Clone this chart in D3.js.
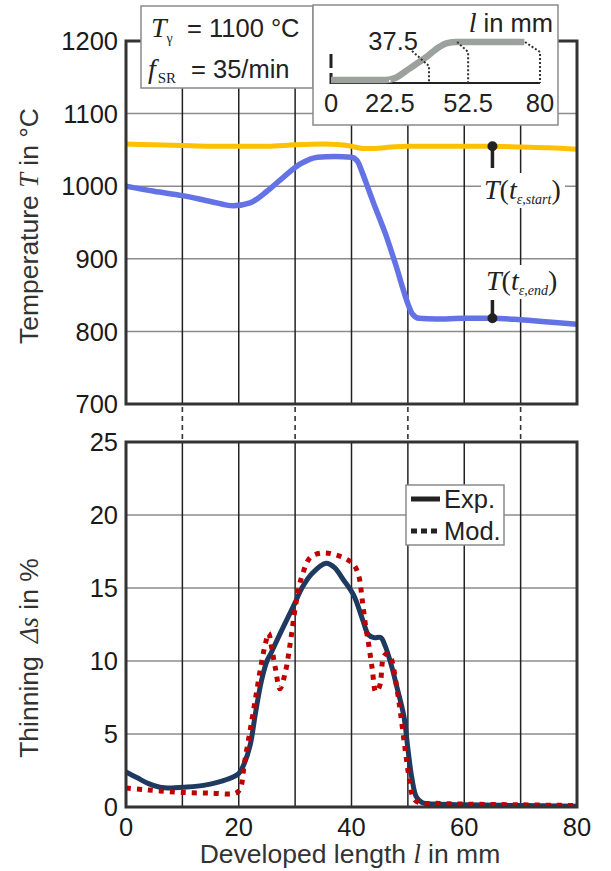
<!DOCTYPE html>
<html><head><meta charset="utf-8">
<script src="https://cdn.jsdelivr.net/npm/d3@7"></script>
<style>body{margin:0;background:#fff}svg{display:block}</style>
</head><body><svg id="c" width="611" height="871"></svg>
<script>
// ---------- data ----------
const lenBlue = [0,5,10,15,19,22,25,28,31,34,37,40,41,42,43,44,45,46,47,48,49,50,50.8,52,55,60,65,70,75,80];
const tempBlue = [1000,993,987,979,973,977,993,1013,1031,1040,1041,1040,1035,1017,996,975,955,935,912,888,862,838,824,818,817,818,818,816,813,810];
const lenOrange = [0,5,10,15,20,25,30,35,38,40,42,44,47,50,55,60,65,70,75,80];
const tempOrange = [1058,1057,1056,1055,1055,1055,1057,1058,1057,1055,1052,1052,1054,1055,1055,1055,1055,1054,1053,1051];
const lenExp = [0,2,4,6,8,10,14,18,20,21,22,23,24,25,25.8,27,28,30,31.2,33,35.5,37,38.5,40.4,42,43,44,45.2,46,47,48,49.3,50,50.7,51.5,52.5,55,60,70,80];
const thinExp = [2.4,2.0,1.6,1.35,1.3,1.35,1.5,1.9,2.3,3.0,4.2,6.5,8.6,10.0,10.6,11.6,12.4,14.0,15.0,16.0,16.7,16.4,15.6,14.5,12.8,11.8,11.6,11.6,11.0,9.8,8.3,6.2,4.0,2.0,0.7,0.3,0.2,0.15,0.1,0.05];
const lenMod = [0,3,6,10,15,19.5,20.3,21,22,23,24,24.8,25.3,25.8,26.5,27.3,28.3,29.2,30,30.6,31.2,32.7,34.8,36.9,39,40.4,41.3,41.9,42.5,43.1,43.7,44.3,45,45.7,46.3,46.9,48.1,48.7,49.5,50.3,51,52,55,60,70,80];
const thinMod = [1.3,1.2,1.1,1.0,0.95,0.95,1.3,3.0,5.2,7.5,9.8,11.3,11.9,11.0,9.5,8.1,9.3,11.4,13.6,14.9,15.8,17.1,17.4,17.3,17.0,16.6,15.8,14.2,12.4,11.0,9.4,7.9,8.3,10.3,10.5,10.3,8.0,6.4,4.0,1.8,0.6,0.3,0.25,0.2,0.15,0.1];
const xTicks = [0,20,40,60,80];
const xGrid = [10,20,30,40,50,60,70];
const tTicks = [700,800,900,1000,1100,1200];
const tGrid = [800,900,1000,1100];
const sTicks = [0,5,10,15,20,25];
const sGrid = [5,10,15,20];
const connectorL = [10,30,50,70];
const markerL = 65;
const markerStart = 1055, markerEnd = 818;
const insetTicks = [0,22.5,52.5,80];
const insetMarks = [37.5,52.5,80];
const profL = [0,21,24.5,30,36,41,44.5,48,74];
const profH = [0,0,0.05,0.3,0.58,0.85,0.97,1,1];
const legendItems = [{name:"Exp.", key:"exp"},{name:"Mod.", key:"mod"}];

// ---------- setup ----------
const SANS = "'Liberation Sans', Arial, sans-serif";
const SERIF = "'Liberation Serif', 'Times New Roman', serif";
const svg = d3.select("#c");
const X0 = 126, X1 = 577;
const x = d3.scaleLinear([0,80],[X0,X1]);
const yT = d3.scaleLinear([700,1200],[404,41]);
const yS = d3.scaleLinear([0,25],[807,442]);

const cBlue = "#6373e6", cOrange = "#ffc000", cExp = "#1f3a60", cMod = "#c00000";
const gridDark = "#222", gridLight = "#8c8c8c", frameC = "#333";

function panel(y, grid, ticks, fmt){
  const g = svg.append("g");
  g.selectAll("line.h").data(grid).join("line")
    .attr("x1",X0).attr("x2",X1).attr("y1",d=>y(d)).attr("y2",d=>y(d))
    .attr("stroke",gridLight).attr("stroke-width",1.5);
  g.selectAll("line.v").data(xGrid).join("line")
    .attr("x1",d=>x(d)).attr("x2",d=>x(d)).attr("y1",y.range()[0]).attr("y2",y.range()[1])
    .attr("stroke",gridDark).attr("stroke-width",1.5);
  g.selectAll("text.yt").data(ticks).join("text")
    .attr("x",118).attr("y",d=>y(d)).attr("dy","0.36em")
    .attr("text-anchor","end").attr("font-family",SANS).attr("font-size",25.5).attr("fill","#1a1a1a")
    .text(fmt);
  return g;
}
panel(yT, tGrid, tTicks, d=>d);
panel(yS, sGrid, sTicks, d=>d);

// connectors
svg.selectAll("line.conn").data(connectorL).join("line")
  .attr("x1",d=>x(d)).attr("x2",d=>x(d)).attr("y1",407).attr("y2",441)
  .attr("stroke","#333").attr("stroke-width",1.6).attr("stroke-dasharray","5,4");

// clip
svg.append("clipPath").attr("id","clipT").append("rect").attr("x",X0).attr("y",41).attr("width",X1-X0).attr("height",363);
svg.append("clipPath").attr("id","clipS").append("rect").attr("x",X0).attr("y",442).attr("width",X1-X0).attr("height",365);

// top curves
const lineT = d3.line().x(d=>x(d[0])).y(d=>yT(d[1])).curve(d3.curveMonotoneX);
svg.append("path").attr("clip-path","url(#clipT)")
  .attr("d", lineT(d3.zip(lenOrange,tempOrange))).attr("fill","none")
  .attr("stroke",cOrange).attr("stroke-width",5);
svg.append("path").attr("clip-path","url(#clipT)")
  .attr("d", lineT(d3.zip(lenBlue,tempBlue))).attr("fill","none")
  .attr("stroke",cBlue).attr("stroke-width",5.5);

// bottom curves
const lineS = d3.line().x(d=>x(d[0])).y(d=>yS(d[1])).curve(d3.curveCatmullRom.alpha(0.5));
svg.append("path").attr("clip-path","url(#clipS)")
  .attr("d", lineS(d3.zip(lenExp,thinExp))).attr("fill","none")
  .attr("stroke",cExp).attr("stroke-width",5).attr("stroke-linejoin","round");
svg.append("path").attr("clip-path","url(#clipS)")
  .attr("d", lineS(d3.zip(lenMod,thinMod))).attr("fill","none")
  .attr("stroke",cMod).attr("stroke-width",5).attr("stroke-dasharray","5,6");

// frames
[[41,404],[442,807]].forEach(([a,b])=>{
  svg.append("rect").attr("x",X0).attr("y",a).attr("width",X1-X0).attr("height",b-a)
    .attr("fill","none").attr("stroke",frameC).attr("stroke-width",3);
});

// x tick labels
svg.selectAll("text.xt").data(xTicks).join("text")
  .attr("x",d=>x(d)).attr("y",836).attr("text-anchor","middle")
  .attr("font-family",SANS).attr("font-size",25.5).attr("fill","#1a1a1a").text(d=>d);

// axis titles
const xt = svg.append("text").attr("x",350).attr("y",863).attr("text-anchor","middle")
  .attr("font-family",SANS).attr("font-size",26.5).attr("fill","#333");
xt.append("tspan").text("Developed length ");
xt.append("tspan").attr("font-family",SERIF).attr("font-style","italic").text("l");
xt.append("tspan").text(" in mm");

const yt1 = svg.append("text").attr("transform","translate(38,226) rotate(-90)").attr("text-anchor","middle")
  .attr("font-family",SANS).attr("font-size",26.5).attr("fill","#333");
yt1.append("tspan").text("Temperature ");
yt1.append("tspan").attr("font-family",SERIF).attr("font-style","italic").text("T");
yt1.append("tspan").text(" in °C");

const yt2 = svg.append("text").attr("transform","translate(38,658) rotate(-90)").attr("text-anchor","middle")
  .attr("font-family",SANS).attr("font-size",26.5).attr("fill","#333");
yt2.append("tspan").text("Thinning\u2002");
yt2.append("tspan").attr("font-family",SERIF).attr("font-style","italic").text("Δs");
yt2.append("tspan").text(" in %");

// markers
const mx = x(markerL);
svg.append("line").attr("x1",mx).attr("x2",mx).attr("y1",yT(markerStart)).attr("y2",168)
  .attr("stroke","#222").attr("stroke-width",3.5);
svg.append("circle").attr("cx",mx).attr("cy",yT(markerStart)).attr("r",5).attr("fill","#222");
svg.append("line").attr("x1",mx).attr("x2",mx).attr("y1",300).attr("y2",yT(markerEnd))
  .attr("stroke","#222").attr("stroke-width",3.5);
svg.append("circle").attr("cx",mx).attr("cy",yT(markerEnd)).attr("r",5).attr("fill","#222");

function tLabel(x0, yb, sub, rect){
  svg.append("rect").attr("x",rect[0]).attr("y",rect[1]).attr("width",rect[2]).attr("height",rect[3]).attr("fill","#fff");
  const t = svg.append("text").attr("x",x0).attr("y",yb).attr("font-family",SERIF).attr("font-size",28).attr("fill","#222");
  t.append("tspan").attr("font-style","italic").text("T");
  t.append("tspan").text("(");
  t.append("tspan").attr("font-style","italic").text("t");
  t.append("tspan").attr("font-style","italic").attr("font-size",14).attr("dy",5).text(sub);
  t.append("tspan").attr("dy",-5).text(")");
}
tLabel(484, 199, "ε,start", [481,173,84,35]);
tLabel(486, 290, "ε,end", [483,265,79,34]);

// inset left
svg.append("rect").attr("x",141).attr("y",6).attr("width",172).attr("height",82)
  .attr("fill","#fff").attr("stroke","#8a8a8a").attr("stroke-width",1.5);
const l1 = svg.append("text").attr("x",151).attr("y",37).attr("font-size",25).attr("fill","#222");
l1.append("tspan").attr("font-family",SERIF).attr("font-style","italic").attr("font-size",28).text("T");
l1.append("tspan").attr("font-family",SERIF).attr("font-size",14).attr("dy",6).text("γ");
svg.append("text").attr("x",187).attr("y",37).attr("font-family",SANS).attr("font-size",25.5).attr("fill","#222").text("= 1100 °C");
const l2 = svg.append("text").attr("x",148).attr("y",78).attr("fill","#222");
l2.append("tspan").attr("font-family",SERIF).attr("font-style","italic").attr("font-size",28).text("f");
l2.append("tspan").attr("font-family",SERIF).attr("font-size",15).attr("dy",5).attr("dx",2).text("SR");
svg.append("text").attr("x",191).attr("y",78).attr("font-family",SANS).attr("font-size",25.5).attr("fill","#222").text("= 35/min");

// inset right
svg.append("rect").attr("x",313).attr("y",5).attr("width",245).attr("height",120)
  .attr("fill","#fff").attr("stroke","#8a8a8a").attr("stroke-width",1.5);
const xi = d3.scaleLinear([0,80],[331,540]);
const yi = d3.scaleLinear([0,1],[80,42]);
svg.append("line").attr("x1",xi(0)).attr("x2",xi(80)).attr("y1",83).attr("y2",83).attr("stroke","#222").attr("stroke-width",2);
svg.append("line").attr("x1",xi(0)).attr("x2",xi(0)).attr("y1",54).attr("y2",84).attr("stroke","#222").attr("stroke-width",3).attr("stroke-dasharray","14,5");
svg.append("path").attr("d", d3.line().x(d=>xi(d[0])).y(d=>yi(d[1])).curve(d3.curveMonotoneX)(d3.zip(profL,profH)))
  .attr("fill","none").attr("stroke","#9da19e").attr("stroke-width",6.5);
// dotted markers
const dotStyle = s=>s.attr("fill","none").attr("stroke","#333").attr("stroke-width",2).attr("stroke-dasharray","2,2");
svg.append("path").attr("d",`M${xi(37.5)-17},51 L${xi(37.5)},66 L${xi(37.5)},83`).call(dotStyle);
svg.append("path").attr("d",`M${xi(52.5)-11},42 L${xi(52.5)},52 L${xi(52.5)},83`).call(dotStyle);
svg.append("path").attr("d",`M${xi(80)-15},42 L${xi(80)},52 L${xi(80)},83`).call(dotStyle);
svg.append("line").attr("x1",xi(22.5)).attr("x2",xi(22.5)).attr("y1",80).attr("y2",86).attr("stroke","#fff").attr("stroke-width",1.5).attr("stroke-dasharray","2,2");
svg.selectAll("text.it").data(insetTicks).join("text")
  .attr("x",d=>xi(d)).attr("y",112).attr("text-anchor","middle")
  .attr("font-family",SANS).attr("font-size",25.5).attr("fill","#222").text(d=>d);
svg.append("text").attr("x",418).attr("y",50).attr("text-anchor","end")
  .attr("font-family",SANS).attr("font-size",25.5).attr("fill","#222").text(insetMarks[0]);
const lt = svg.append("text").attr("x",553).attr("y",32).attr("text-anchor","end").attr("font-size",25.5).attr("fill","#222");
lt.append("tspan").attr("font-family",SERIF).attr("font-style","italic").attr("font-size",28).text("l");
lt.append("tspan").attr("font-family",SANS).text(" in mm");

// legend
svg.append("rect").attr("x",406).attr("y",485).attr("width",98).attr("height",60)
  .attr("fill","#fff").attr("stroke","#8a8a8a").attr("stroke-width",1.5);
const lg = svg.selectAll("g.lg").data(legendItems).join("g").attr("transform",(d,i)=>`translate(0,${499+i*32})`);
lg.append("line").attr("x1",411).attr("x2",440).attr("y1",0).attr("y2",0)
  .attr("stroke","#222").attr("stroke-width",5)
  .attr("stroke-dasharray",d=>d.key==="exp"?null:"6,4");
lg.append("text").attr("x",444).attr("y",9).attr("font-family",SANS).attr("font-size",25.5).attr("fill","#222").text(d=>d.name);
</script></body></html>
